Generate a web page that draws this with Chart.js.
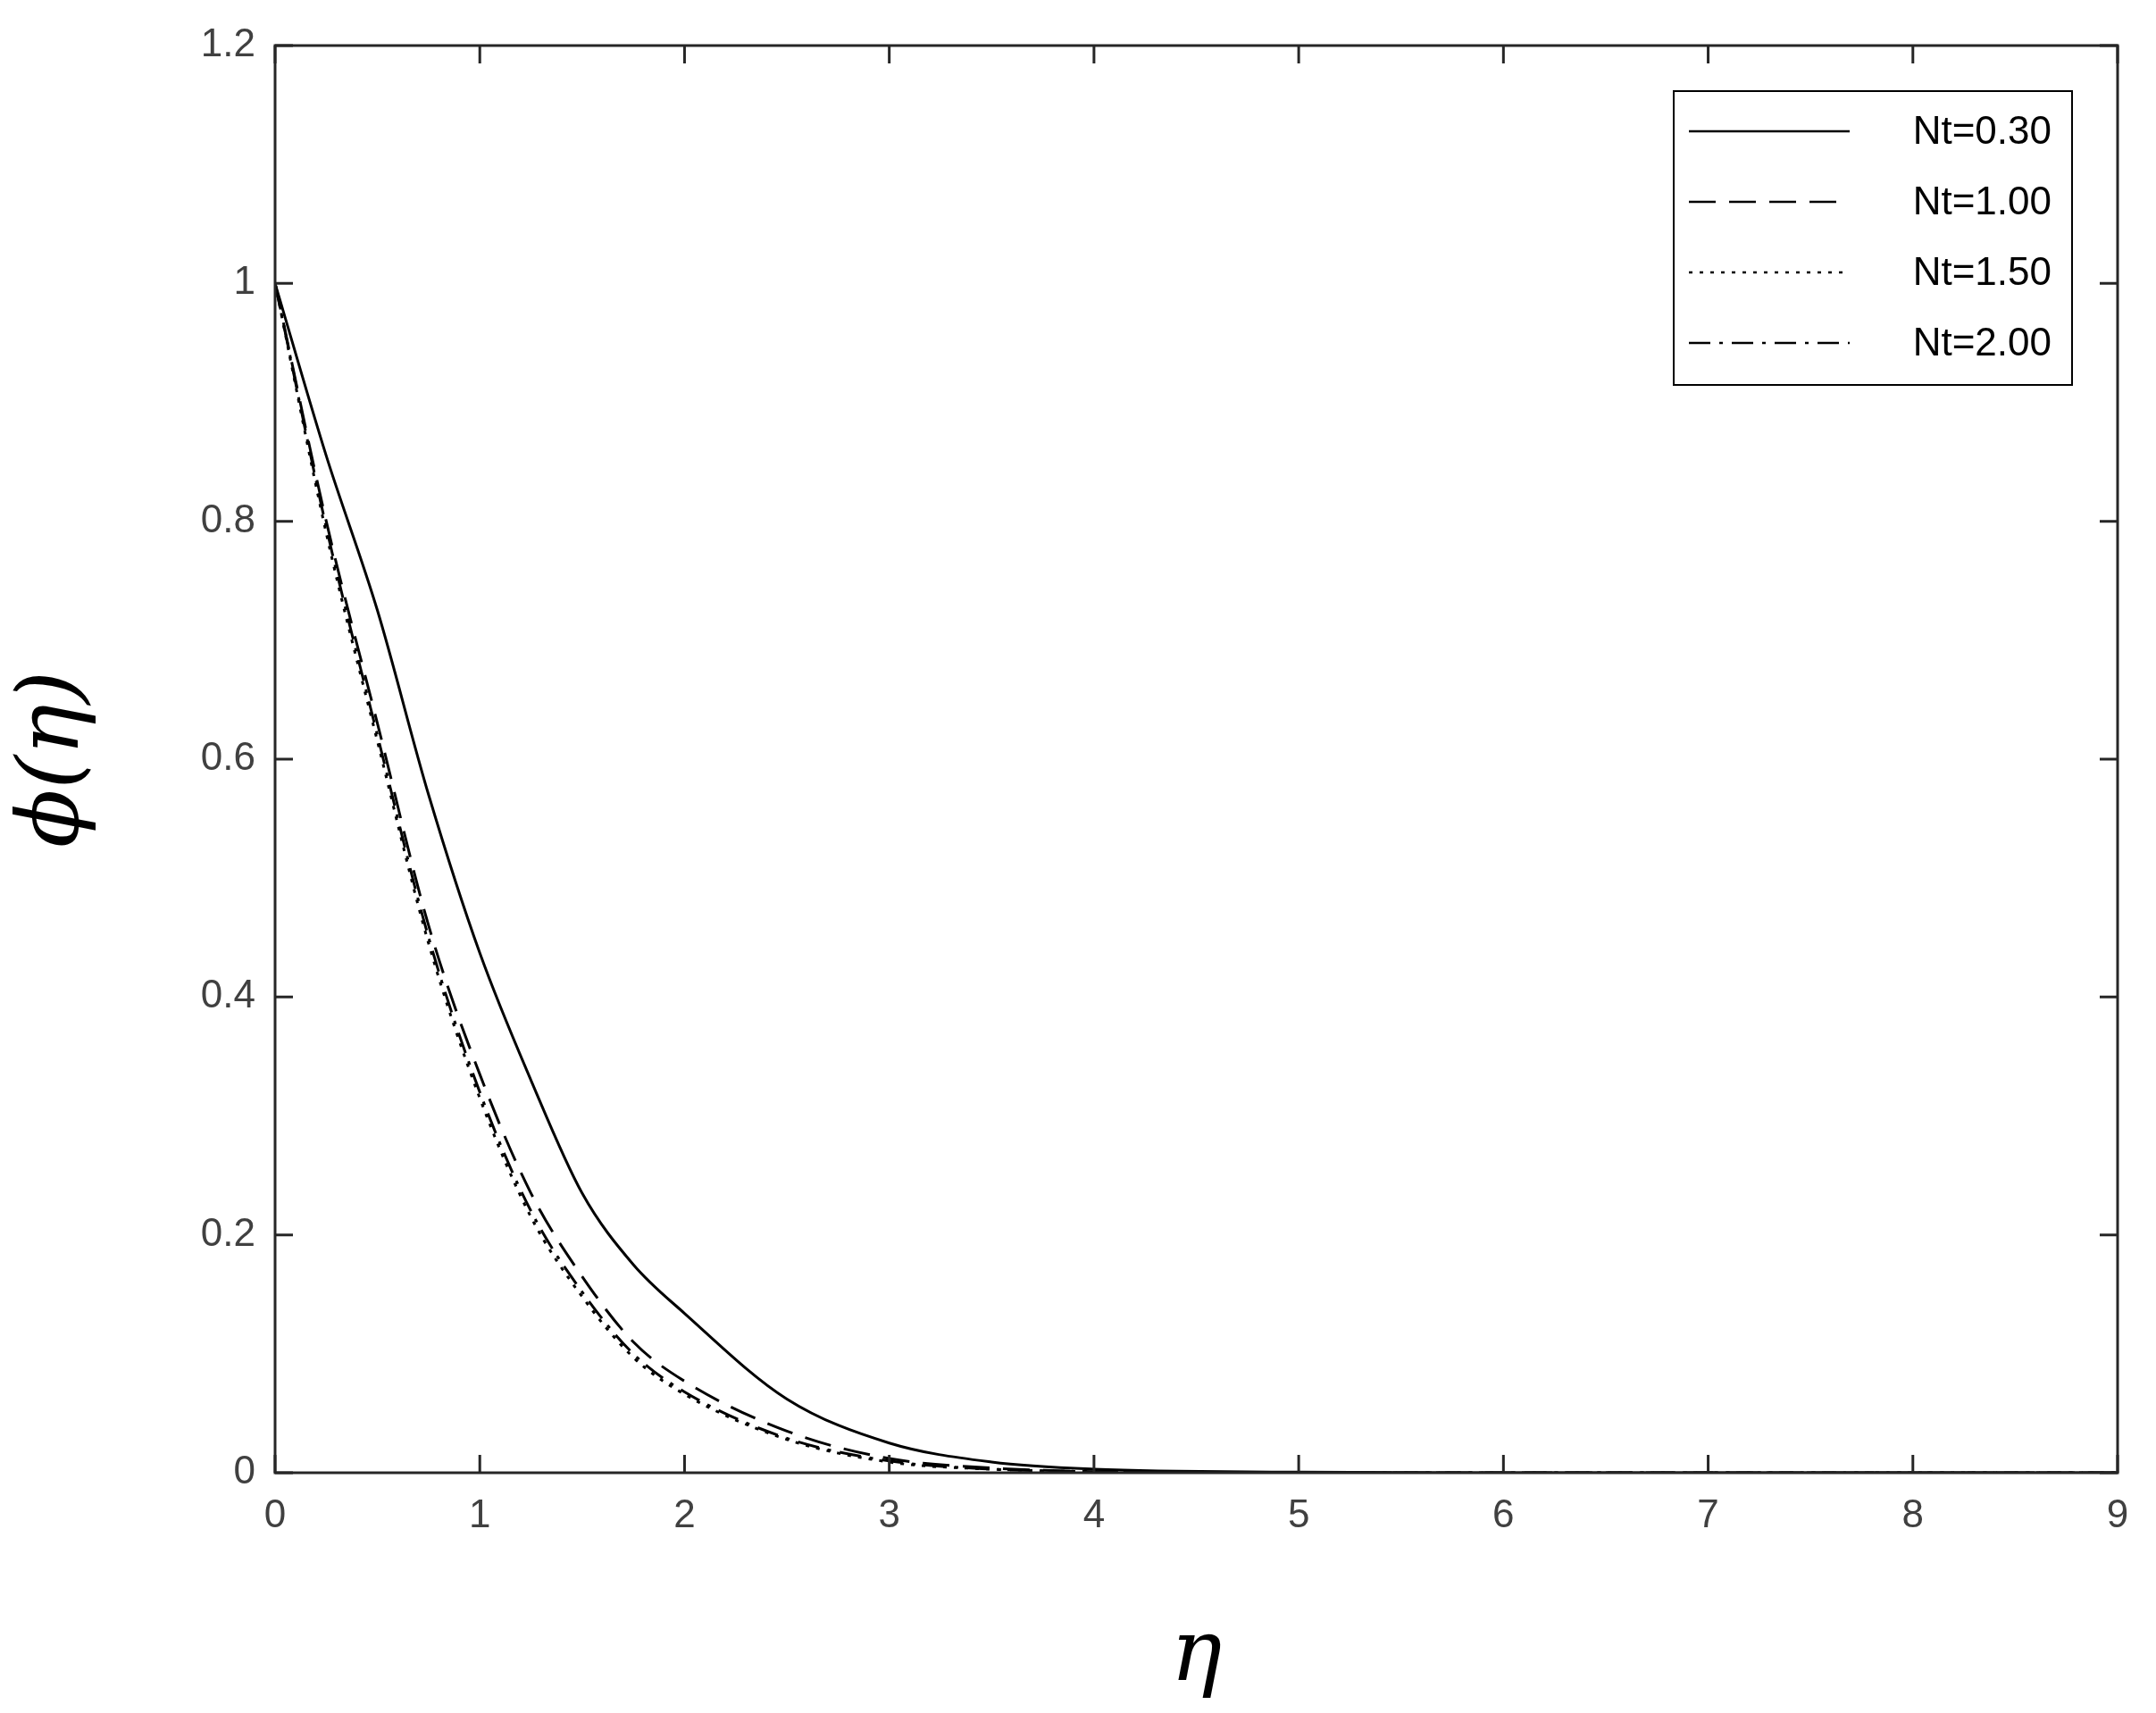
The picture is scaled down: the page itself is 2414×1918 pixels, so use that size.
<!DOCTYPE html>
<html>
<head>
<meta charset="utf-8">
<script src="https://cdn.jsdelivr.net/npm/chart.js@4"></script>
<style>
  html, body { margin: 0; padding: 0; background: #fff; }
  #wrap { width: 2414px; height: 1918px; }
</style>
</head>
<body>
<div id="wrap"><canvas id="c" width="2414" height="1918"></canvas></div>
<script>
const ETA = [0, 0.25, 0.5, 0.75, 1, 1.25, 1.5, 1.75, 2, 2.5, 3, 3.5, 4, 5, 6, 7, 8, 9];
const NT_030 = [1, 0.855, 0.725, 0.57, 0.437, 0.33, 0.235, 0.175, 0.134, 0.062, 0.025, 0.009, 0.003, 0.0005, 0, 0, 0, 0];
const NT_100 = [1, 0.80, 0.63, 0.46, 0.335, 0.235, 0.165, 0.11, 0.077, 0.035, 0.012, 0.004, 0.001, 0, 0, 0, 0, 0];
const NT_150 = [1, 0.79, 0.615, 0.445, 0.315, 0.215, 0.148, 0.097, 0.066, 0.028, 0.009, 0.003, 0.001, 0, 0, 0, 0, 0];
const NT_200 = [1, 0.795, 0.62, 0.45, 0.32, 0.22, 0.152, 0.10, 0.068, 0.029, 0.010, 0.003, 0.001, 0, 0, 0, 0, 0];
const LABELS = ['Nt=0.30', 'Nt=1.00', 'Nt=1.50', 'Nt=2.00'];
const DASHES = [[], [30, 15], [4, 8], [24, 10, 4, 10]];
const SERIES = [NT_030, NT_100, NT_150, NT_200];

const AXIS_COLOR = '#262626';
const TICK_COLOR = '#404040';

const frame = {
  id: 'frame',
  afterDraw(chart) {
    const { ctx, chartArea: a, scales: { x, y } } = chart;
    ctx.save();
    ctx.strokeStyle = AXIS_COLOR;
    ctx.lineWidth = 3;
    ctx.setLineDash([]);
    ctx.strokeRect(a.left, a.top, a.right - a.left, a.bottom - a.top);
    const L = 20;
    x.ticks.forEach(t => {
      const px = x.getPixelForValue(t.value);
      ctx.beginPath();
      ctx.moveTo(px, a.bottom); ctx.lineTo(px, a.bottom - L);
      ctx.moveTo(px, a.top); ctx.lineTo(px, a.top + L);
      ctx.stroke();
    });
    y.ticks.forEach(t => {
      const py = y.getPixelForValue(t.value);
      ctx.beginPath();
      ctx.moveTo(a.left, py); ctx.lineTo(a.left + L, py);
      ctx.moveTo(a.right, py); ctx.lineTo(a.right - L, py);
      ctx.stroke();
    });
    // legend
    const bx = 1874, by = 102, bw = 446, bh = 329;
    ctx.fillStyle = '#fff';
    ctx.fillRect(bx, by, bw, bh);
    ctx.lineWidth = 2;
    ctx.strokeStyle = '#000';
    ctx.strokeRect(bx, by, bw, bh);
    ctx.font = '44px Arial, "Liberation Sans", sans-serif';
    ctx.textAlign = 'right';
    ctx.textBaseline = 'middle';
    chart.data.datasets.forEach((ds, i) => {
      const cy = by + 45 + i * 79;
      ctx.strokeStyle = '#000';
      ctx.lineWidth = 2.5;
      ctx.setLineDash(ds.borderDash);
      ctx.beginPath();
      ctx.moveTo(1891, cy); ctx.lineTo(2071, cy);
      ctx.stroke();
      ctx.setLineDash([]);
      ctx.fillStyle = '#000';
      ctx.fillText(ds.label, 2297, cy + 2);
    });
    ctx.restore();
  }
};

new Chart(document.getElementById('c'), {
  type: 'line',
  data: {
    datasets: SERIES.map((s, i) => ({
      label: LABELS[i],
      data: ETA.map((e, j) => ({ x: e, y: s[j] })),
      borderColor: '#000',
      borderWidth: 3,
      borderDash: DASHES[i],
      pointRadius: 0,
      tension: 0.4,
      cubicInterpolationMode: 'monotone',
      fill: false,
    }))
  },
  options: {
    responsive: false,
    animation: false,
    layout: { padding: { top: 51, right: 43, left: 0, bottom: 0 } },
    plugins: { legend: { display: false }, tooltip: { enabled: false } },
    scales: {
      x: {
        type: 'linear', min: 0, max: 9,
        ticks: { stepSize: 1, color: TICK_COLOR, font: { size: 44, family: 'Arial, "Liberation Sans", sans-serif' }, padding: 14 },
        grid: { display: false }, border: { display: false },
        title: { display: true, text: 'η', color: '#000', font: { size: 96, family: '"DejaVu Serif", serif', style: 'italic' }, padding: { top: 20 } },
        afterFit(s) { s.height = 269; }
      },
      y: {
        min: 0, max: 1.2,
        ticks: { stepSize: 0.2, color: TICK_COLOR, font: { size: 44, family: 'Arial, "Liberation Sans", sans-serif' }, padding: 14,
          callback: v => String(Number(v.toFixed(1))) },
        grid: { display: false }, border: { display: false },
        title: { display: true, text: 'ϕ(η)', color: '#000', font: { size: 96, family: '"DejaVu Serif", serif', style: 'italic' }, padding: { bottom: 20 } },
        afterFit(s) { s.width = 308; }
      }
    }
  },
  plugins: [frame]
});
</script>
</body>
</html>
